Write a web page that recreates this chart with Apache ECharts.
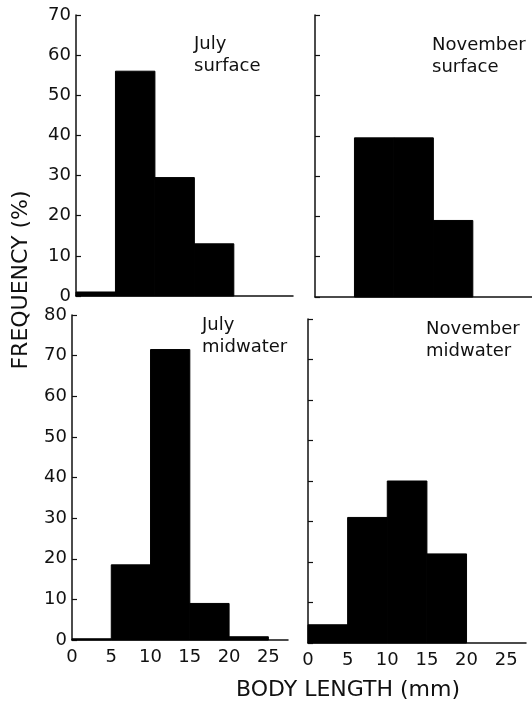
<!DOCTYPE html>
<html>
<head>
<meta charset="utf-8">
<script src="https://cdn.jsdelivr.net/npm/echarts@6/dist/echarts.min.js"></script>
<style>
  html, body { margin: 0; padding: 0; background: #fff; }
  #chart { width: 532px; height: 702px; }
</style>
</head>
<body>
<div id="chart"></div>
<script>
// size classes (mm), one bin each
const binStart = [0, 5, 10, 15, 20]
const binEnd = [5, 10, 15, 20, 25]

// frequency (%) per bin
const julySurface = [1, 56, 29.5, 13, 0]
const novSurface = [0, 39.5, 39.5, 19, 0]
const julyMidwater = [0.3, 18.5, 71.5, 9, 0.8]
const novMidwater = [4.5, 31, 40, 22, 0]

const panelNames = ['July\nsurface', 'November\nsurface', 'July\nmidwater', 'November\nmidwater']
const yMaxTop = 70
const yMaxBottom = 80
const xMax = 27.5

const font = 'DejaVu Sans'
const ink = '#111'

const chart = echarts.init(document.getElementById('chart'))

function bins(values) {
  return values.map((v, i) => [binStart[i], binEnd[i], v])
}

function renderBin(params, api) {
  if (!api.value(2)) return null // empty class, nothing to draw
  const p0 = api.coord([api.value(0), 0])
  const p1 = api.coord([api.value(1), api.value(2)])
  return {
    type: 'rect',
    shape: { x: p0[0], y: p1[1], width: p1[0] - p0[0], height: p0[1] - p1[1] },
    // stroke in the same colour so neighbouring bins merge without seams
    style: { fill: '#000', stroke: '#000', lineWidth: 1 }
  }
}

const grids = [
  { left: 76, top: 15, width: 217, height: 281 },
  { left: 315, top: 15, width: 217, height: 282 },
  { left: 72, top: 315, width: 216, height: 325 },
  { left: 308, top: 319, width: 218, height: 324 }
]

const xAxes = grids.map((g, i) => ({
  type: 'value',
  gridIndex: i,
  min: 0,
  max: xMax,
  interval: 5,
  axisLine: { lineStyle: { color: ink, width: 1.5 } },
  axisTick: { show: false },
  splitLine: { show: false },
  axisLabel: {
    show: i >= 2,
    color: ink,
    fontFamily: font,
    fontSize: 18,
    margin: 8,
    showMaxLabel: false
  }
}))

const yAxes = grids.map((g, i) => ({
  type: 'value',
  gridIndex: i,
  min: 0,
  max: i < 2 ? yMaxTop : yMaxBottom,
  interval: 10,
  axisLine: { show: true, lineStyle: { color: ink, width: 1.5 } },
  axisTick: { show: true, inside: true, length: 5, lineStyle: { color: ink, width: 1.2 } },
  splitLine: { show: false },
  axisLabel: {
    show: i % 2 === 0,
    color: ink,
    fontFamily: font,
    fontSize: 18,
    margin: 5
  }
}))

const seriesData = [julySurface, novSurface, julyMidwater, novMidwater]

chart.setOption({
  animation: false,
  backgroundColor: '#fff',
  title: [
    { text: panelNames[0], left: 194, top: 33 },
    { text: panelNames[1], left: 432, top: 34 },
    { text: panelNames[2], left: 202, top: 314 },
    { text: panelNames[3], left: 426, top: 318 }
  ].map(t => Object.assign(t, {
    textStyle: { color: ink, fontFamily: font, fontSize: 18, fontWeight: 'normal', lineHeight: 22 },
    padding: 0
  })),
  grid: grids,
  xAxis: xAxes,
  yAxis: yAxes,
  series: seriesData.map((vals, i) => ({
    type: 'custom',
    xAxisIndex: i,
    yAxisIndex: i,
    renderItem: renderBin,
    encode: { x: [0, 1], y: 2 },
    data: bins(vals)
  })),
  graphic: [
    {
      type: 'text',
      x: 21,
      y: 280,
      rotation: Math.PI / 2,
      style: {
        text: 'FREQUENCY (%)',
        fill: ink,
        font: '22px "DejaVu Sans"',
        align: 'center',
        verticalAlign: 'middle'
      }
    },
    {
      type: 'text',
      x: 348,
      y: 690,
      style: {
        text: 'BODY LENGTH (mm)',
        fill: ink,
        font: '22px "DejaVu Sans"',
        align: 'center',
        verticalAlign: 'middle'
      }
    }
  ]
})
</script>
</body>
</html>
